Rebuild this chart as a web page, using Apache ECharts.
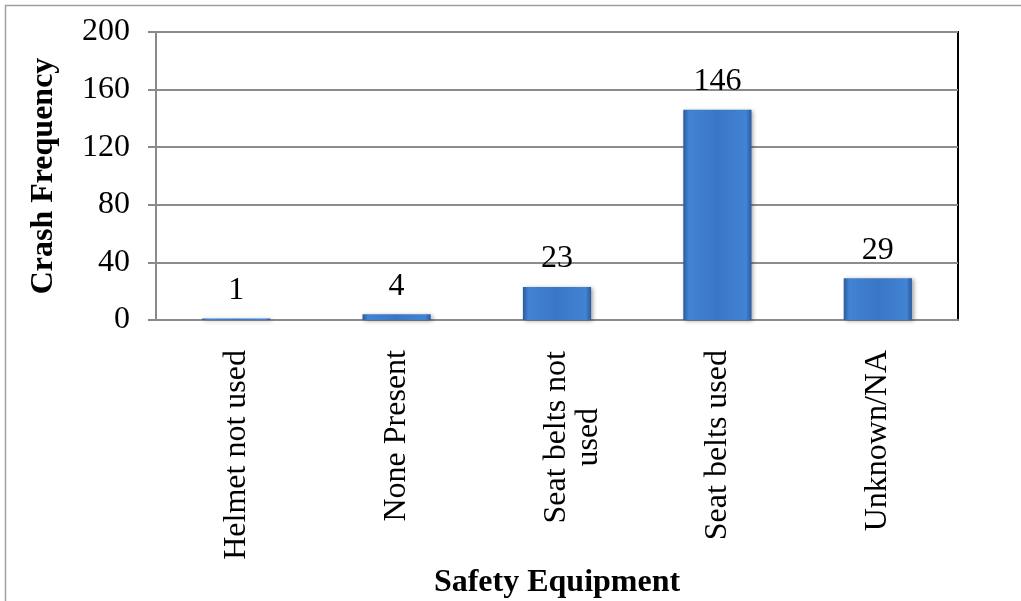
<!DOCTYPE html>
<html>
<head>
<meta charset="utf-8">
<script src="https://cdn.jsdelivr.net/npm/echarts@6/dist/echarts.min.js"></script>
<style>
html,body{margin:0;padding:0;background:#fff;}
#chart{width:1021px;height:601px;}
</style>
</head>
<body>
<div id="chart"></div>
<script>
const categories = ['Helmet not used', 'None Present', 'Seat belts not\nused', 'Seat belts used', 'Unknown/NA'];
const values = [1, 4, 23, 146, 29];
const yTicks = [0, 40, 80, 120, 160, 200];
const xTitle = 'Safety Equipment';
const yTitle = 'Crash Frequency';

const FONT = '"Liberation Serif", "Times New Roman", serif';
const FS = 32;
const c = document.createElement('canvas').getContext('2d');
c.font = FS + 'px "Liberation Serif"';
const wrapW = Math.max(...categories.filter(s => s.includes('\n')).flatMap(s => s.split('\n')).map(s => c.measureText(s).width), 0) + 2;

const catData = categories.map(s => s.includes('\n') ? {value: s, textStyle: {padding: [32, 0, 0, 0]}} : s);

const chart = echarts.init(document.getElementById('chart'), null, {renderer: 'canvas'});
chart.setOption({
  backgroundColor: '#fff',
  animation: false,
  graphic: [{
    type: 'rect', silent: true, z: -10,
    shape: {x: 5.5, y: 5.5, width: 1200, height: 800},
    style: {fill: 'none', stroke: '#a0a0a0', lineWidth: 1.5}
  }],
  grid: {
    left: 156, top: 32, right: 63, bottom: 281,
    show: true, borderColor: '#000', borderWidth: 2, backgroundColor: 'transparent'
  },
  xAxis: {
    type: 'category',
    data: catData,
    name: xTitle,
    nameLocation: 'middle',
    nameGap: 247,
    nameTextStyle: {fontFamily: FONT, fontSize: FS, fontWeight: 'bold', color: '#000'},
    axisLine: {lineStyle: {color: '#8a8a8a', width: 2}},
    axisTick: {show: false},
    axisLabel: {
      interval: 0, rotate: 90, margin: 30,
      fontFamily: FONT, fontSize: FS, color: '#000', lineHeight: 32,
      formatter: v => v.includes('\n') ? v.split('\n').map(l => '{w|' + l + '}').join('\n') : v,
      rich: {w: {width: wrapW, align: 'center', fontFamily: FONT, fontSize: FS, color: '#000', lineHeight: 32}}
    }
  },
  yAxis: {
    type: 'value',
    min: yTicks[0], max: yTicks[yTicks.length - 1], interval: 40,
    name: yTitle,
    nameLocation: 'middle',
    nameGap: 96,
    nameTextStyle: {fontFamily: FONT, fontSize: FS, fontWeight: 'bold', color: '#000'},
    axisLine: {show: true, lineStyle: {color: '#8a8a8a', width: 2}},
    axisTick: {show: true, length: 8, lineStyle: {color: '#8a8a8a', width: 2}},
    axisLabel: {fontFamily: FONT, fontSize: FS, color: '#000', margin: 26},
    splitLine: {lineStyle: {color: '#8c8c8c', width: 2}}
  },
  series: [{
    type: 'bar',
    data: values,
    barWidth: '42.5%',
    itemStyle: {
      color: new echarts.graphic.LinearGradient(0, 0, 1, 0, [
        {offset: 0, color: '#2a5a9c'},
        {offset: 0.08, color: '#4283d4'},
        {offset: 0.5, color: '#3a76c6'},
        {offset: 0.92, color: '#4283d4'},
        {offset: 1, color: '#2a5a9c'}
      ]),
      shadowColor: 'rgba(0,0,0,0.35)', shadowBlur: 4, shadowOffsetX: 2, shadowOffsetY: 1
    },
    label: {
      show: true, position: 'top', distance: 12,
      fontFamily: FONT, fontSize: FS, color: '#000'
    }
  }]
});
</script>
</body>
</html>
